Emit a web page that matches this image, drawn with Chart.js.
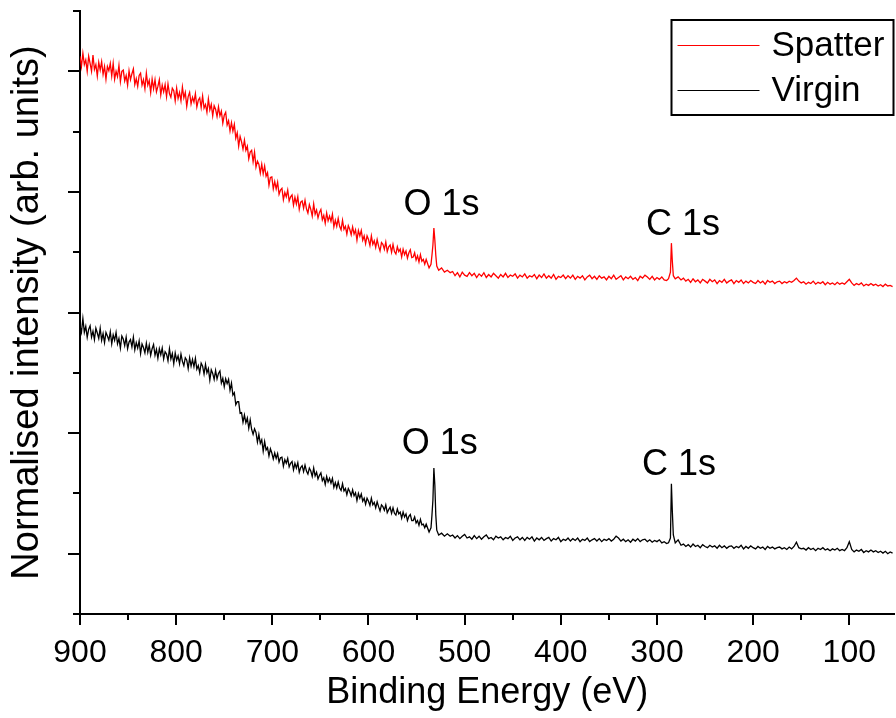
<!DOCTYPE html>
<html>
<head>
<meta charset="utf-8">
<title>XPS survey</title>
<script src="https://cdn.jsdelivr.net/npm/chart.js@4/dist/chart.umd.min.js"></script>
<style>
  html, body { margin: 0; padding: 0; background: #fff; }
  canvas { display: block; }
</style>
</head>
<body>
<canvas id="xps" width="896" height="718"></canvas>
<script>
// binding energies (eV), shared by both spectra
const energies = [
  900,898.5,897,895.5,894,892.5,891,889.5,888,886.5,
  885,883.5,882,880.5,879,877.5,876,874.5,873,871.5,
  870,868.5,867,865.5,864,862.5,861,859.5,858,856.5,
  855,853.5,852,850.5,849,847.5,846,844.5,843,841.5,
  840,838.5,837,835.5,834,832.5,831,829.5,828,826.5,
  825,823.5,822,820.5,819,817.5,816,814.5,813,811.5,
  810,808.5,807,805.5,804,802.5,801,799.5,798,796.5,
  795,793.5,792,790.5,789,787.5,786,784.5,783,781.5,
  780,778.5,777,775.5,774,772.5,771,769.5,768,766.5,
  765,763.5,762,760.5,759,757.5,756,754.5,753,751.5,
  750,748.5,747,745.5,744,742.5,741,739.5,738,736.5,
  735,733.5,732,730.5,729,727.5,726,724.5,723,721.5,
  720,718.5,717,715.5,714,712.5,711,709.5,708,706.5,
  705,703.5,702,700.5,699,697.5,696,694.5,693,691.5,
  690,688.5,687,685.5,684,682.5,681,679.5,678,676.5,
  675,673.5,672,670.5,669,667.5,666,664.5,663,661.5,
  660,658.5,657,655.5,654,652.5,651,649.5,648,646.5,
  645,643.5,642,640.5,639,637.5,636,634.5,633,631.5,
  630,628.5,627,625.5,624,622.5,621,619.5,618,616.5,
  615,613.5,612,610.5,609,607.5,606,604.5,603,601.5,
  600,598.5,597,595.5,594,592.5,591,589.5,588,586.5,
  585,583.5,582,580.5,579,577.5,576,574.5,573,571.5,
  570,568.5,567,565.5,564,562.5,561,559.5,558,556.5,
  555,553.5,552,550.5,549,547.5,546,544.5,543,541.5,
  540,
  537,535,534,533,532,531,530,529,527,524,521,518,515,
  512.5,510,507.5,505,502.5,500,497.5,495,492.5,490,
  487.5,485,482.5,480,477.5,475,472.5,470,467.5,465,
  462.5,460,457.5,455,452.5,450,447.5,445,442.5,440,
  437.5,435,432.5,430,427.5,425,422.5,420,417.5,415,
  412.5,410,407.5,405,402.5,400,397.5,395,392.5,390,
  387.5,385,382.5,380,377.5,375,372.5,370,367.5,365,
  362.5,360,357.5,355,352.5,350,347.5,345,342.5,340,
  337.5,335,332.5,330,327.5,325,322.5,320,317.5,315,
  312.5,310,307.5,305,302.5,300,297.5,295,292.5,290,
  288,286,285,284,283,281,278,275,
  272.5,270,267.5,265,262.5,260,257.5,255,252.5,250,
  247.5,245,242.5,240,237.5,235,232.5,230,227.5,225,
  222.5,220,217.5,215,212.5,210,207.5,205,202.5,200,
  197.5,195,192.5,190,187.5,185,182.5,180,177.5,175,
  172.5,170,167.5,165,162.5,160,157.5,155,152.5,150,
  147.5,145,142.5,140,137.5,135,132.5,130,127.5,125,
  122.5,120,117.5,115,112.5,110,107.5,105,102.5,100,
  97.5,95,92.5,90,87.5,85,82.5,80,77.5,75,
  72.5,70,67.5,65,62.5,60,57.5,55
];

// normalised intensity, the two spectra stacked with an offset
const spatter = [
  9.25,9.08,9.30,9.11,9.19,9.00,9.25,9.13,9.00,9.27,
  9.03,9.11,8.92,9.15,9.02,9.16,8.95,9.08,8.87,9.08,
  9.01,9.13,8.92,9.13,8.87,9.00,8.91,9.10,8.83,9.00,
  9.02,8.84,8.93,8.77,9.01,8.86,8.96,9.04,8.78,8.88,
  8.75,8.93,8.97,8.77,8.86,8.71,8.97,8.77,8.85,8.65,
  8.87,8.71,8.86,8.66,8.75,8.86,8.61,8.77,8.66,8.78,
  8.58,8.79,8.63,8.57,8.72,8.68,8.51,8.72,8.55,8.65,
  8.51,8.74,8.56,8.65,8.42,8.58,8.65,8.46,8.57,8.49,
  8.63,8.41,8.52,8.56,8.40,8.59,8.39,8.45,8.32,8.54,
  8.36,8.45,8.26,8.43,8.37,8.25,8.41,8.26,8.34,8.14,
  8.27,8.32,8.11,8.18,8.01,8.15,8.01,8.12,7.89,7.98,
  7.76,7.92,7.83,7.71,7.86,7.69,7.76,7.55,7.66,7.69,
  7.50,7.66,7.41,7.51,7.46,7.31,7.46,7.30,7.43,7.26,
  7.32,7.11,7.24,7.25,7.05,7.17,7.05,7.16,6.96,7.03,
  7.06,6.87,6.99,6.92,7.03,6.85,6.92,6.95,6.78,6.91,
  6.80,6.92,6.71,6.83,6.85,6.73,6.86,6.72,6.65,6.79,
  6.71,6.60,6.80,6.63,6.70,6.57,6.66,6.71,6.54,6.61,
  6.48,6.65,6.52,6.60,6.51,6.63,6.42,6.53,6.43,6.56,
  6.43,6.37,6.53,6.38,6.43,6.30,6.44,6.38,6.29,6.42,
  6.30,6.37,6.20,6.36,6.27,6.36,6.20,6.27,6.14,6.27,
  6.21,6.11,6.27,6.13,6.19,6.08,6.21,6.10,6.02,6.16,
  6.13,6.05,6.17,6.01,6.09,6.12,6.00,6.13,6.01,5.97,
  6.09,6.01,6.05,5.92,6.05,5.96,6.02,5.90,5.99,6.04,
  5.91,5.92,5.99,5.87,5.94,5.84,5.96,5.85,5.88,5.80,
  5.88,
  5.74,5.80,5.95,6.12,6.40,6.20,5.95,5.77,5.70,5.74,5.67,5.70,5.66,
  5.68,5.61,5.66,5.59,5.67,5.62,5.60,5.66,5.61,5.65,
  5.58,5.64,5.60,5.66,5.58,5.63,5.59,5.65,5.61,5.57,
  5.63,5.59,5.65,5.58,5.62,5.60,5.64,5.57,5.62,5.59,
  5.64,5.57,5.61,5.59,5.63,5.56,5.62,5.58,5.64,5.57,
  5.61,5.57,5.63,5.55,5.60,5.58,5.62,5.56,5.61,5.57,
  5.62,5.55,5.60,5.57,5.61,5.54,5.59,5.62,5.56,5.60,
  5.55,5.61,5.57,5.59,5.54,5.60,5.56,5.62,5.55,5.58,
  5.61,5.54,5.59,5.56,5.60,5.55,5.58,5.53,5.60,5.57,
  5.62,5.59,5.55,5.60,5.54,5.58,5.55,5.59,5.54,5.53,
  5.56,5.67,6.15,5.84,5.61,5.56,5.59,5.54,
  5.57,5.52,5.55,5.50,5.56,5.51,5.54,5.49,5.55,5.52,
  5.49,5.55,5.51,5.54,5.48,5.53,5.50,5.55,5.49,5.52,
  5.54,5.48,5.53,5.50,5.54,5.48,5.52,5.49,5.53,5.50,
  5.48,5.53,5.49,5.52,5.47,5.53,5.50,5.52,5.48,5.51,
  5.52,5.48,5.51,5.49,5.52,5.50,5.53,5.57,5.52,5.49,
  5.51,5.47,5.50,5.48,5.52,5.47,5.50,5.48,5.51,5.46,
  5.50,5.47,5.49,5.46,5.50,5.47,5.49,5.47,5.51,5.55,
  5.49,5.45,5.48,5.46,5.49,5.44,5.47,5.45,5.48,5.45,
  5.47,5.44,5.46,5.43,5.47,5.44,5.45,5.43
];

const virgin = [
  4.77,4.67,4.90,4.67,4.77,4.59,4.72,4.78,4.59,4.69,
  4.55,4.74,4.66,4.57,4.74,4.54,4.65,4.50,4.67,4.61,
  4.54,4.68,4.48,4.63,4.54,4.67,4.48,4.57,4.41,4.61,
  4.56,4.45,4.59,4.40,4.51,4.55,4.43,4.59,4.38,4.50,
  4.41,4.53,4.32,4.48,4.42,4.33,4.49,4.34,4.46,4.29,
  4.40,4.47,4.29,4.39,4.24,4.40,4.30,4.41,4.23,4.35,
  4.31,4.20,4.40,4.23,4.32,4.15,4.33,4.21,4.28,4.15,
  4.31,4.19,4.12,4.25,4.21,4.07,4.25,4.11,4.22,4.10,
  4.24,4.06,4.12,4.00,4.16,4.11,3.98,4.14,4.00,4.07,
  3.88,4.05,3.99,3.89,4.04,3.90,3.99,4.03,3.83,3.91,
  3.77,3.90,3.82,3.89,3.71,3.83,3.63,3.67,3.47,3.52,
  3.52,3.33,3.34,3.18,3.30,3.17,3.25,3.08,3.22,3.06,
  2.98,3.07,3.01,2.85,2.98,2.83,2.89,2.70,2.86,2.72,
  2.76,2.62,2.74,2.67,2.57,2.67,2.58,2.66,2.52,2.59,
  2.60,2.45,2.56,2.50,2.58,2.44,2.50,2.53,2.39,2.50,
  2.42,2.51,2.35,2.43,2.46,2.36,2.47,2.37,2.32,2.42,
  2.37,2.28,2.42,2.29,2.35,2.24,2.30,2.34,2.21,2.26,
  2.15,2.28,2.19,2.25,2.17,2.25,2.10,2.18,2.09,2.19,
  2.09,2.05,2.16,2.04,2.08,1.98,2.08,2.03,1.96,2.06,
  1.96,2.01,1.88,2.00,1.92,1.99,1.87,1.92,1.82,1.92,
  1.87,1.80,1.92,1.81,1.85,1.76,1.86,1.78,1.71,1.81,
  1.78,1.72,1.81,1.68,1.73,1.77,1.67,1.76,1.67,1.64,
  1.74,1.66,1.69,1.59,1.69,1.61,1.66,1.55,1.62,1.65,
  1.55,1.55,1.61,1.51,1.55,1.47,1.57,1.48,1.49,1.43,
  1.49,
  1.36,1.43,1.64,1.89,2.42,2.14,1.64,1.39,1.31,1.34,1.29,1.33,1.29,
  1.31,1.26,1.30,1.25,1.29,1.32,1.26,1.28,1.24,1.30,
  1.25,1.29,1.24,1.28,1.31,1.25,1.27,1.23,1.29,1.26,
  1.28,1.23,1.27,1.25,1.29,1.22,1.26,1.28,1.23,1.27,
  1.22,1.27,1.24,1.28,1.21,1.26,1.23,1.27,1.22,1.25,
  1.27,1.21,1.25,1.23,1.27,1.20,1.24,1.22,1.26,1.21,
  1.25,1.22,1.26,1.20,1.24,1.22,1.26,1.20,1.23,1.25,
  1.21,1.25,1.20,1.24,1.22,1.25,1.21,1.24,1.29,1.26,
  1.21,1.24,1.20,1.23,1.19,1.24,1.21,1.25,1.20,1.23,
  1.24,1.20,1.23,1.19,1.22,1.20,1.23,1.18,1.20,1.17,
  1.18,1.26,2.16,1.69,1.31,1.18,1.23,1.14,
  1.16,1.12,1.15,1.11,1.16,1.12,1.14,1.10,1.15,1.12,
  1.10,1.14,1.11,1.13,1.09,1.14,1.10,1.13,1.09,1.12,
  1.13,1.09,1.12,1.10,1.14,1.08,1.12,1.09,1.13,1.10,
  1.08,1.12,1.09,1.11,1.07,1.12,1.09,1.11,1.08,1.10,
  1.11,1.08,1.10,1.07,1.11,1.08,1.12,1.19,1.10,1.08,
  1.09,1.06,1.10,1.07,1.09,1.05,1.09,1.07,1.10,1.06,
  1.08,1.05,1.08,1.06,1.09,1.05,1.07,1.05,1.10,1.20,
  1.07,1.03,1.06,1.04,1.07,1.02,1.05,1.03,1.06,1.03,
  1.05,1.02,1.04,1.01,1.04,1.00,1.03,1.01
];

// peak labels: name, energy of text centre, baseline level
const peakNames = ['O 1s', 'C 1s'];
const spatterLabelEnergy = [524, 273];
const spatterLabelLevel = [6.62, 6.29];
const virginLabelEnergy = [526, 277];
const virginLabelLevel = [2.65, 2.31];

const xMajorTicks = [100, 200, 300, 400, 500, 600, 700, 800, 900];
const xMinorTicks = [150, 250, 350, 450, 550, 650, 750, 850];
const yMajorTicks = [1, 3, 5, 7, 9];
const yMinorTicks = [0, 2, 4, 6, 8, 10];

const FONT = '"Liberation Sans", Arial, Helvetica, sans-serif';
Chart.defaults.font.family = FONT;
Chart.defaults.color = '#000';

const toPoints = (ys) => energies.map((e, i) => ({ x: e, y: ys[i] }));

// outward tick marks, long for major and short for minor
const axisTicks = {
    id: 'axisTicks',
    afterDraw(chart) {
        const { ctx, chartArea, scales } = chart;
        ctx.save();
        ctx.strokeStyle = '#000';
        ctx.lineWidth = 2;
        ctx.beginPath();
        const xTick = (v, len) => {
            const px = Math.round(scales.x.getPixelForValue(v));
            ctx.moveTo(px, chartArea.bottom);
            ctx.lineTo(px, chartArea.bottom + len);
        };
        const yTick = (v, len) => {
            const py = Math.round(scales.y.getPixelForValue(v));
            ctx.moveTo(chartArea.left, py);
            ctx.lineTo(chartArea.left - len, py);
        };
        xMajorTicks.forEach(v => xTick(v, 11));
        xMinorTicks.forEach(v => xTick(v, 6));
        yMajorTicks.forEach(v => yTick(v, 12));
        yMinorTicks.forEach(v => yTick(v, 7));
        ctx.stroke();
        ctx.restore();
    }
};

const peakLabels = {
    id: 'peakLabels',
    afterDatasetsDraw(chart) {
        const { ctx, scales } = chart;
        ctx.save();
        ctx.fillStyle = '#000';
        ctx.font = '36px ' + FONT;
        ctx.textAlign = 'center';
        ctx.textBaseline = 'alphabetic';
        peakNames.forEach((name, i) => {
            ctx.fillText(name, scales.x.getPixelForValue(spatterLabelEnergy[i]), scales.y.getPixelForValue(spatterLabelLevel[i]));
            ctx.fillText(name, scales.x.getPixelForValue(virginLabelEnergy[i]), scales.y.getPixelForValue(virginLabelLevel[i]));
        });
        ctx.restore();
    }
};

const boxedLegend = {
    id: 'boxedLegend',
    afterDraw(chart) {
        const { ctx, chartArea } = chart;
        const w = 222, h = 95;
        const x0 = chartArea.right - w - 1, y0 = chartArea.top + 9;
        ctx.save();
        ctx.fillStyle = '#fff';
        ctx.fillRect(x0, y0, w, h);
        ctx.strokeStyle = '#000';
        ctx.lineWidth = 2;
        ctx.strokeRect(x0, y0, w, h);
        ctx.font = '35px ' + FONT;
        ctx.textBaseline = 'middle';
        ctx.textAlign = 'left';
        chart.data.datasets.forEach((ds, i) => {
            const y = y0 + 25.5 + i * 45;
            ctx.strokeStyle = ds.borderColor;
            ctx.lineWidth = 1;
            ctx.beginPath();
            ctx.moveTo(x0 + 6, y);
            ctx.lineTo(x0 + 88, y);
            ctx.stroke();
            ctx.fillStyle = '#000';
            ctx.fillText(ds.label, x0 + 100, y + 1);
        });
        ctx.restore();
    }
};

new Chart(document.getElementById('xps').getContext('2d'), {
    type: 'line',
    data: {
        datasets: [
            { label: 'Spatter', data: toPoints(spatter), borderColor: '#ff0000', borderWidth: 1.3, pointRadius: 0, tension: 0 },
            { label: 'Virgin', data: toPoints(virgin), borderColor: '#000000', borderWidth: 1.3, pointRadius: 0, tension: 0 }
        ]
    },
    options: {
        responsive: false,
        animation: false,
        devicePixelRatio: 1,
        layout: { padding: { top: 11, right: 0, bottom: 0, left: 0 } },
        plugins: {
            legend: { display: false },
            tooltip: { enabled: false }
        },
        scales: {
            x: {
                type: 'linear',
                reverse: true,
                min: 53,
                max: 900,
                grid: { display: false, drawTicks: false },
                border: { display: true, color: '#000', width: 2 },
                ticks: {
                    stepSize: 100,
                    includeBounds: false,
                    autoSkip: false,
                    maxRotation: 0,
                    padding: 20,
                    color: '#000',
                    font: { size: 32 }
                },
                title: {
                    display: true,
                    text: 'Binding Energy (eV)',
                    color: '#000',
                    font: { size: 36 },
                    padding: { top: 0, bottom: 3 }
                },
                afterFit(scale) { scale.height = 104; }
            },
            y: {
                min: 0,
                max: 10,
                grid: { display: false, drawTicks: false },
                border: { display: true, color: '#000', width: 2 },
                ticks: { display: false, stepSize: 1 },
                title: {
                    display: true,
                    text: 'Normalised intensity (arb. units)',
                    color: '#000',
                    font: { size: 38 },
                    padding: { top: 5, bottom: 0 }
                },
                afterFit(scale) { scale.width = 80; }
            }
        }
    },
    plugins: [axisTicks, peakLabels, boxedLegend]
});
</script>
</body>
</html>
